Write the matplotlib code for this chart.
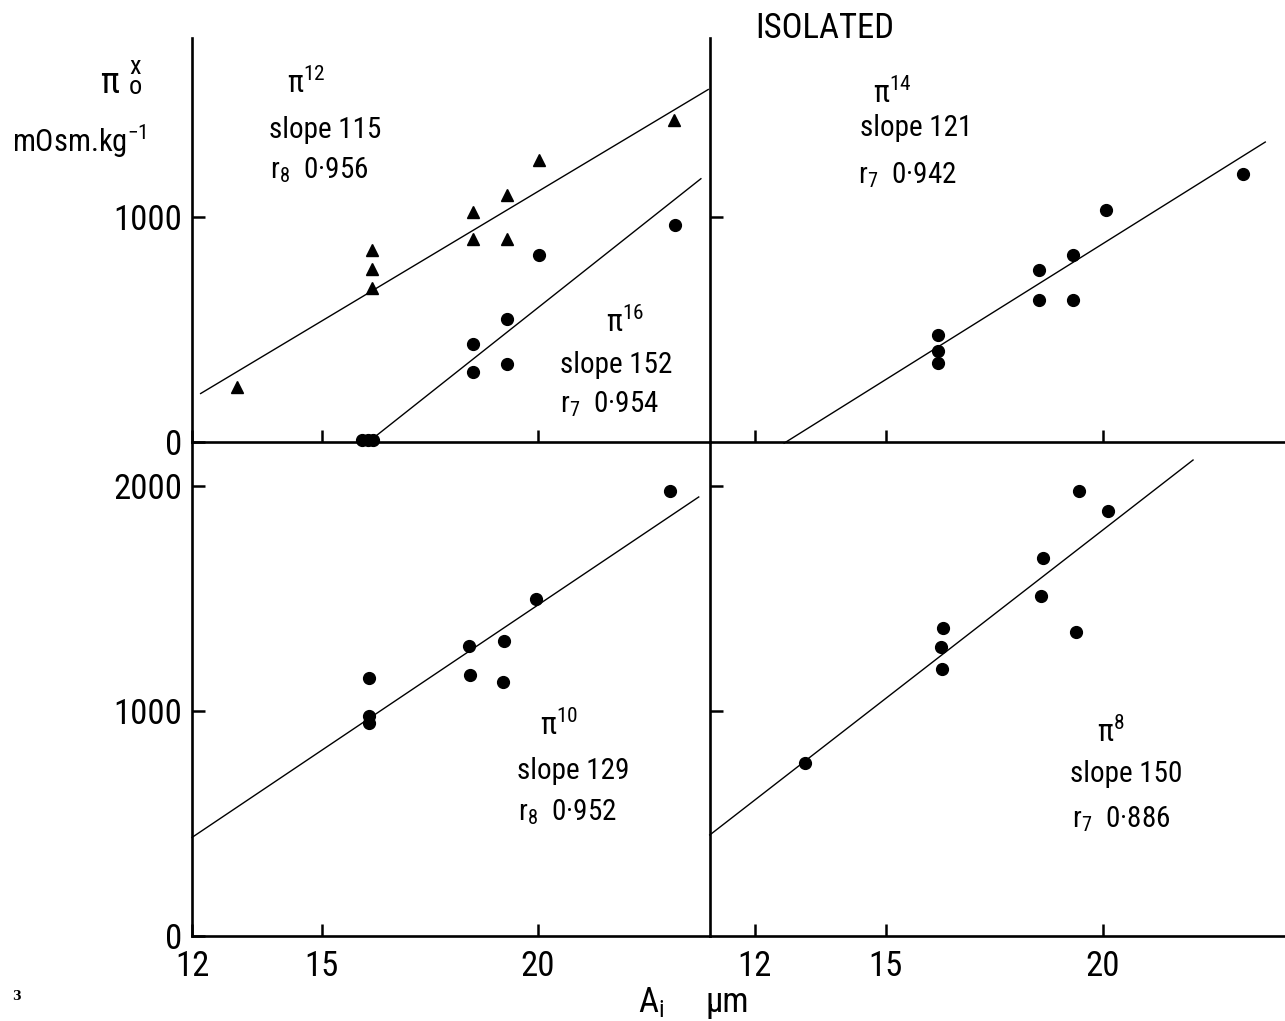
import numpy as np
import matplotlib
matplotlib.use("Agg")
import matplotlib.pyplot as plt
from matplotlib import font_manager as fm

# ---- data: osmotic pressure vs. cell diameter -------------------------
# pi12 (triangles) and pi16 (circles) share the upper-left panel
pi12_x = [13.05, 16.17, 16.17, 16.17, 18.50, 18.50, 19.30, 19.30, 20.03, 23.15]
pi12_y = [245, 852, 767, 686, 1022, 900, 1096, 900, 1253, 1431]
pi16_x = [15.93, 16.07, 16.20, 18.50, 18.50, 19.30, 19.30, 20.03, 23.17]
pi16_y = [10, 10, 10, 435, 309, 545, 346, 833, 966]
# pi14, upper-right panel
pi14_x = [16.20, 16.20, 16.20, 18.54, 18.54, 19.31, 19.31, 20.07, 23.22]
pi14_y = [474, 403, 351, 763, 630, 833, 630, 1030, 1193]
# pi10, lower-left panel
pi10_x = [16.10, 16.10, 16.10, 18.41, 18.43, 19.23, 19.20, 19.96, 23.06]
pi10_y = [1145, 978, 945, 1288, 1160, 1310, 1130, 1498, 1978]
# pi8, lower-right panel
pi8_x = [13.14, 16.33, 16.27, 16.31, 18.61, 18.57, 19.38, 19.45, 20.12]
pi8_y = [767, 1371, 1285, 1188, 1682, 1511, 1350, 1978, 1888]

# regression lines: slope, a point on the line, and the drawn x-range
slopes = {"pi12": 115, "pi16": 152, "pi14": 121, "pi10": 129, "pi8": 150}
anchors = {"pi12": (18.17, 902), "pi16": (19.95, 588), "pi14": (18.20, 664),
           "pi10": (17.86, 1194), "pi8": (16.50, 1280)}
spans = {"pi12": (12.2, 23.95), "pi16": (16.15, 23.78), "pi14": (12.67, 23.73),
         "pi10": (12.0, 23.73), "pi8": (10.96, 22.07)}
r_values = {"pi12": ("8", "0·956"), "pi16": ("7", "0·954"), "pi14": ("7", "0·942"),
            "pi10": ("8", "0·952"), "pi8": ("7", "0·886")}

# ---- font -------------------------------------------------------------
available = {f.name for f in fm.fontManager.ttflist}
FONT = "DejaVu Sans"
for cand in ["Liberation Sans Narrow", "Roboto Condensed", "Roboto"]:
    if cand in available:
        FONT = cand
        break
plt.rcParams["font.family"] = [FONT, "DejaVu Sans"]
plt.rcParams["mathtext.fontset"] = "custom"
plt.rcParams["mathtext.rm"] = FONT
plt.rcParams["mathtext.it"] = FONT
plt.rcParams["mathtext.bf"] = FONT

W, H = 1285, 1021
fig = plt.figure(figsize=(W / 100, H / 100), dpi=100)


def fx(x):
    return x / W


def fy(y):
    return 1 - y / H


# axes boxes in pixel terms
left_x0, left_x1 = 192, 710
right_x0, right_x1 = 710, 1285
top_y0, top_y1 = 38, 442
bot_y0, bot_y1 = 442, 936

ax_tl = fig.add_axes([fx(left_x0), fy(top_y1), (left_x1 - left_x0) / W, (top_y1 - top_y0) / H])
ax_tr = fig.add_axes([fx(right_x0), fy(top_y1), (right_x1 - right_x0) / W, (top_y1 - top_y0) / H])
ax_bl = fig.add_axes([fx(left_x0), fy(bot_y1), (left_x1 - left_x0) / W, (bot_y1 - bot_y0) / H])
ax_br = fig.add_axes([fx(right_x0), fy(bot_y1), (right_x1 - right_x0) / W, (bot_y1 - bot_y0) / H])

left_xlim = (12, 12 + (left_x1 - left_x0) / 43.2)
right_xlim = (12 - 45 / 43.5, 12 + (right_x1 - 755) / 43.5)
top_ylim = (0, (top_y1 - top_y0) / 0.225)
bot_ylim = (0, (bot_y1 - bot_y0) / 0.225)

TICK_FS = 25
for ax, xl, yl in [(ax_tl, left_xlim, top_ylim), (ax_tr, right_xlim, top_ylim),
                   (ax_bl, left_xlim, bot_ylim), (ax_br, right_xlim, bot_ylim)]:
    ax.set_xlim(*xl)
    ax.set_ylim(*yl)
    for s in ("top", "right"):
        ax.spines[s].set_visible(False)
    for s in ("left", "bottom"):
        ax.spines[s].set_linewidth(1.9)
    ax.tick_params(direction="in", length=9, width=1.8, labelsize=TICK_FS,
                   pad=7)
    ax.patch.set_alpha(0)

ax_tl.set_xticks([12, 15, 20])
ax_tl.set_yticks([0, 1000])
ax_tl.tick_params(axis="x", labelbottom=False)
ax_tr.set_xticks([12, 15, 20])
ax_tr.set_yticks([1000])
ax_tr.tick_params(labelbottom=False, labelleft=False)
ax_bl.set_xticks([12, 15, 20])
ax_bl.set_yticks([0, 1000, 2000])
ax_bl.tick_params(axis="x", pad=10)
ax_br.set_xticks([12, 15, 20])
ax_br.set_yticks([1000, 2000])
ax_br.tick_params(axis="y", labelleft=False)
ax_br.tick_params(axis="x", pad=10)

MS = 8.5
TRI = 9.0


def fit_line(ax, key):
    x0, x1 = spans[key]
    xa, ya = anchors[key]
    xs = np.array([x0, x1])
    ys = ya + slopes[key] * (xs - xa)
    ax.plot(xs, ys, color="black", lw=1.0, clip_on=False, zorder=2)


ax_tl.plot(pi12_x, pi12_y, "^", color="black", ms=TRI, clip_on=False, zorder=3)
ax_tl.plot(pi16_x, pi16_y, "o", color="black", ms=MS, clip_on=False, zorder=3)
fit_line(ax_tl, "pi12")
fit_line(ax_tl, "pi16")

ax_tr.plot(pi14_x, pi14_y, "o", color="black", ms=MS, clip_on=False, zorder=3)
fit_line(ax_tr, "pi14")

ax_bl.plot(pi10_x, pi10_y, "o", color="black", ms=MS, clip_on=False, zorder=3)
fit_line(ax_bl, "pi10")

ax_br.plot(pi8_x, pi8_y, "o", color="black", ms=MS, clip_on=False, zorder=3)
fit_line(ax_br, "pi8")

# ---- panel annotations --------------------------------------------------
ANN_FS = 21


def annotate(key, label, pi_xy, slope_xy, r_xy):
    fig.text(fx(pi_xy[0]), fy(pi_xy[1]), "π$^{%s}$" % label, fontsize=ANN_FS + 1,
             va="baseline", ha="left")
    fig.text(fx(slope_xy[0]), fy(slope_xy[1]), "slope %d" % slopes[key],
             fontsize=ANN_FS, va="baseline", ha="left")
    sub, val = r_values[key]
    fig.text(fx(r_xy[0]), fy(r_xy[1]), "r$_{%s}$  %s" % (sub, val),
             fontsize=ANN_FS, va="baseline", ha="left")


annotate("pi12", "12", (287, 93), (269, 138), (270, 178))
annotate("pi16", "16", (606, 332), (560, 373), (560, 412))
annotate("pi14", "14", (873, 103), (860, 136), (858, 183))
annotate("pi10", "10", (540, 735), (517, 779), (518, 820))
annotate("pi8", "8", (1097, 742), (1070, 782), (1072, 827))

# ---- titles and axis labels ----------------------------------------------
fig.text(fx(755), fy(38), "ISOLATED", fontsize=25, va="baseline", ha="left")

# y-axis quantity: pi with stacked x over o
fig.text(fx(100), fy(93), "π", fontsize=26, va="baseline", ha="left")
fig.text(fx(129), fy(55), "x\no", fontsize=19, linespacing=0.8,
         va="top", ha="left")
fig.text(fx(12), fy(152), "mOsm.kg$^{-1}$", fontsize=22, va="baseline", ha="left")

fig.text(fx(638), fy(1012), "A$_{i}$", fontsize=25, va="baseline", ha="left")
fig.text(fx(705), fy(1012), "µm", fontsize=25, va="baseline", ha="left")

fig.text(fx(12), fy(1000), "3", fontsize=9, fontweight="bold",
         family="DejaVu Serif", va="baseline", ha="left")

fig.savefig("out.png", dpi=100, facecolor="white")
